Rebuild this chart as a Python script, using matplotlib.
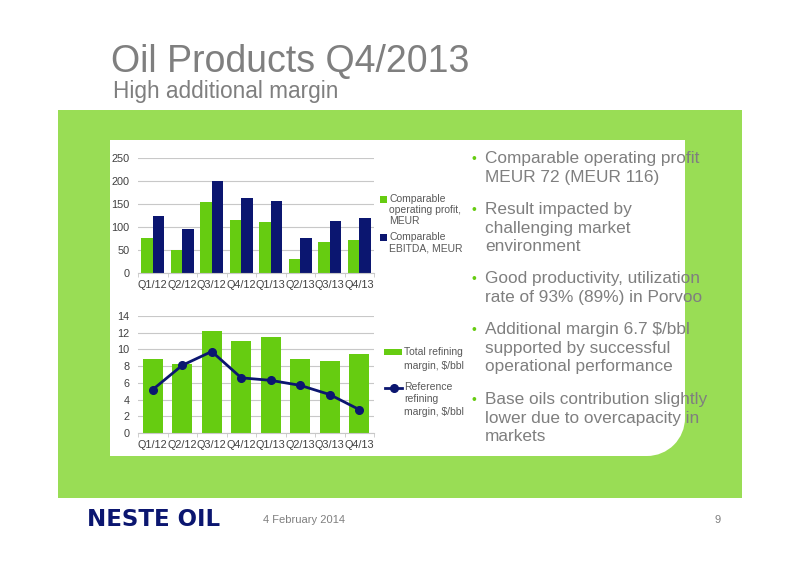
import matplotlib
matplotlib.use('Agg')
import matplotlib.pyplot as plt
import numpy as np
from matplotlib.patches import Rectangle, Circle

quarters = ['Q1/12', 'Q2/12', 'Q3/12', 'Q4/12', 'Q1/13', 'Q2/13', 'Q3/13', 'Q4/13']
op_profit = [77, 49, 154, 116, 111, 30, 67, 72]
ebitda = [125, 95, 200, 162, 156, 76, 113, 120]
total_margin = [8.9, 8.3, 12.2, 11.0, 11.5, 8.8, 8.6, 9.5]
ref_margin = [5.2, 8.1, 9.75, 6.6, 6.3, 5.7, 4.6, 2.8]
bullets = [
    'Comparable operating profit\nMEUR 72 (MEUR 116)',
    'Result impacted by\nchallenging market\nenvironment',
    'Good productivity, utilization\nrate of 93% (89%) in Porvoo',
    'Additional margin 6.7 $/bbl\nsupported by successful\noperational performance',
    'Base oils contribution slightly\nlower due to overcapacity in\nmarkets',
]

GREEN = '#66cc11'
NAVY = '#0b1670'
PANEL = '#99dd55'
GREY = '#7f7f7f'
TICK = '#404040'
GRID = '#c8c8c8'

W, H = 800, 566
plt.rcParams['font.family'] = ['Liberation Sans', 'DejaVu Sans']
fig = plt.figure(figsize=(8, 5.66), dpi=100)


def px_axes(x0, y0, x1, y1):
    return fig.add_axes([x0 / W, 1 - y1 / H, (x1 - x0) / W, (y1 - y0) / H])


# background panels, in pixel coordinates
bg = fig.add_axes([0, 0, 1, 1])
bg.set_xlim(0, W)
bg.set_ylim(H, 0)
bg.axis('off')
bg.add_patch(Rectangle((58, 110), 684, 388, color=PANEL, lw=0))
r = 38
bg.add_patch(Rectangle((110, 140), 575, 316 - r, color='white', lw=0))
bg.add_patch(Rectangle((110, 140), 575 - r, 316, color='white', lw=0))
bg.add_patch(Circle((685 - r, 456 - r), r, color='white', lw=0))

bg.text(111, 72, 'Oil Products Q4/2013', fontsize=27, color=GREY, va='baseline')
bg.text(113, 98, 'High additional margin', fontsize=16.3, color=GREY, va='baseline')

# bullet list
tops = [151, 202, 271, 322, 392]
for t, txt in zip(tops, bullets):
    bg.text(474, t + 8, '\u2022', fontsize=10, color=GREEN, va='center', ha='center')
    bg.text(485, t, txt, fontsize=12.4, color=GREY, va='top', linespacing=1.3)

# footer
bg.text(87, 519, 'NESTE OIL', fontsize=16.5, fontweight='heavy', color=NAVY,
        va='center', family='DejaVu Sans')
bg.text(263, 520, '4 February 2014', fontsize=8, color=GREY, va='center')
bg.text(721, 520, '9', fontsize=8, color=GREY, va='center', ha='right')


def style(ax, ymax, step):
    ax.set_xlim(-0.5, 7.5)
    ax.set_ylim(0, ymax)
    ax.set_yticks(np.arange(0, ymax + step / 2, step))
    ax.set_xticks(np.arange(8))
    ax.set_xticklabels(quarters)
    ax.set_xticks(np.arange(-0.5, 8, 1), minor=True)
    ax.tick_params(axis='x', which='major', length=0, pad=5, labelsize=7.8, labelcolor=TICK)
    ax.tick_params(axis='x', which='minor', length=3, color=GRID)
    ax.tick_params(axis='y', length=0, pad=6, labelsize=7.8, labelcolor=TICK)
    ax.grid(axis='y', color=GRID, lw=0.8)
    ax.set_axisbelow(True)
    for s in ['top', 'right', 'left']:
        ax.spines[s].set_visible(False)
    ax.spines['bottom'].set_color(GRID)
    ax.patch.set_alpha(0)


x = np.arange(len(quarters))

ax1 = px_axes(138, 158, 374, 273)
ax1.bar(x - 0.195, op_profit, 0.39, color=GREEN)
ax1.bar(x + 0.195, ebitda, 0.39, color=NAVY)
style(ax1, 250, 50)

ax2 = px_axes(138, 316, 374, 433)
ax2.bar(x, total_margin, 0.68, color=GREEN)
ax2.plot(x, ref_margin, color=NAVY, lw=2, marker='o', markersize=5.5)
style(ax2, 14, 2)

# legends drawn by hand (handles align with first line)
LEG = '#595959'
bg.add_patch(Rectangle((380, 196), 7, 7, color=GREEN, lw=0))
bg.text(389, 194, 'Comparable\noperating profit,\nMEUR', fontsize=7.5, color=LEG,
        va='top', linespacing=1.15)
bg.add_patch(Rectangle((380, 234), 7, 7, color=NAVY, lw=0))
bg.text(389, 232, 'Comparable\nEBITDA, MEUR', fontsize=7.5, color=LEG,
        va='top', linespacing=1.15)

bg.add_patch(Rectangle((384, 349), 18, 6, color=GREEN, lw=0))
bg.text(404, 347, 'Total refining\nmargin, $/bbl', fontsize=7.5, color=LEG,
        va='top', linespacing=1.5)
bg.plot([385, 402], [388, 388], color=NAVY, lw=2)
bg.plot([393.5], [388], color=NAVY, marker='o', markersize=5.5)
bg.text(404, 382, 'Reference\nrefining\nmargin, $/bbl', fontsize=7.5, color=LEG,
        va='top', linespacing=1.3)

fig.savefig('out.png', dpi=100)
